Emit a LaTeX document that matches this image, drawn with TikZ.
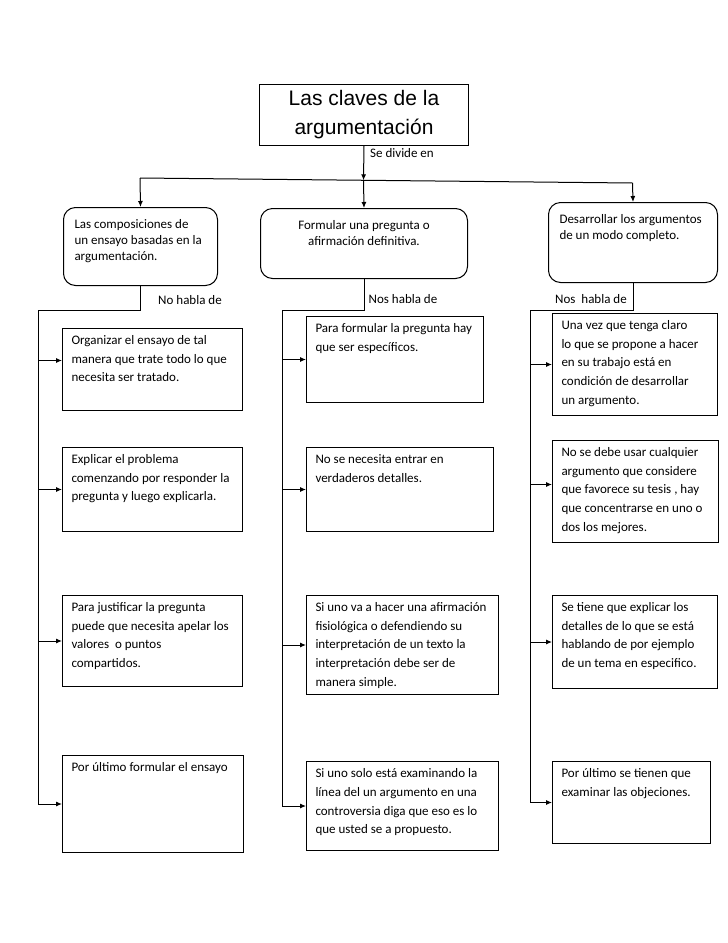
\documentclass[tikz,border=0pt]{standalone}
\usepackage{fontspec}
\setmainfont{Carlito}
\newfontfamily\titlefont{Liberation Sans}
\usetikzlibrary{arrows.meta}
\newcommand{\boxtxt}[3]{\parbox[c][#2][t]{#1}{\begin{tabular}[t]{@{}l@{}}#3\end{tabular}}}

\begin{document}
\begin{tikzpicture}[x=1pt,y=-1pt,
titlebox/.style ={rectangle, draw, line width=1pt, anchor=north west,
  minimum width=209pt, minimum height=61pt, inner sep=0pt,
  align=center, font=\titlefont\fontsize{21}{29}\selectfont
},
topic/.style ={rectangle, draw, line width=1pt, rounded corners=12pt,
  anchor=north west, inner xsep=11pt, inner ysep=10pt,
  font=\fontsize{13}{16}\selectfont
},
item/.style ={rectangle, draw, line width=1pt, anchor=north west,
  inner xsep=9pt, inner ysep=3pt, font=\fontsize{13}{18.7}\selectfont
},
conn/.style ={line width=1pt},
arr/.style ={line width=1pt, -{Latex[length=6pt,width=5pt]}},
lbl/.style ={font=\fontsize{13}{16}\selectfont, inner sep=0pt}]
\fill[white] (0,0) rectangle (728,943);

\node (title) at (259,84) [titlebox] {Las claves de la\\argumentación};

% first level
\node (a) at (63,207) [topic] {\boxtxt{132pt}{58pt}{Las composiciones de\\un ensayo basadas en la\\argumentación.}};
\node (b) at (260,208) [topic] {\parbox[c][50pt][t]{185pt}{\centering\begin{tabular}[t]{@{}c@{}}Formular una pregunta o\\afirmación definitiva.\end{tabular}}};
\node (c) at (548,202) [topic] {\boxtxt{147pt}{60pt}{Desarrollar los argumentos\\de un modo completo.}};

% left column
\node (l1) at (62,328) [item] {\boxtxt{162pt}{76pt}{Organizar el ensayo de tal\\manera que trate todo lo que\\necesita ser tratado.}};
\node (l2) at (62,447) [item] {\boxtxt{162pt}{78pt}{Explicar el problema\\comenzando por responder la\\pregunta y luego explicarla.}};
\node (l3) at (62,595) [item] {\boxtxt{162pt}{85pt}{Para justificar la pregunta\\puede que necesita apelar los\\valores~ o puntos\\compartidos.}};
\node (l4) at (62,755) [item] {\boxtxt{163pt}{91pt}{Por último formular el ensayo}};

% middle column
\node (m1) at (306,316) [item] {\boxtxt{159pt}{80pt}{Para formular la pregunta hay\\que ser específicos.}};
\node (m2) at (306,447) [item] {\boxtxt{169pt}{78pt}{No se necesita entrar en\\verdaderos detalles.}};
\node (m3) at (306,595) [item] {\boxtxt{174pt}{93pt}{Si uno va a hacer una afirmación\\fisiológica o defendiendo su\\interpretación de un texto la\\interpretación debe ser de\\manera simple.}};
\node (m4) at (306,761) [item] {\boxtxt{174pt}{83pt}{Si uno solo está examinando la\\línea del un argumento en una\\controversia diga que eso es lo\\que usted se a propuesto.}};

% right column
\node (r1) at (552,313) [item] {\boxtxt{147pt}{96pt}{Una vez que tenga claro\\lo que se propone a hacer\\en su trabajo está en\\condición de desarrollar\\un argumento.}};
\node (r2) at (552,440) [item] {\boxtxt{148pt}{96pt}{No se debe usar cualquier\\argumento que considere\\que favorece su tesis , hay\\que concentrarse en uno o\\dos los mejores.}};
\node (r3) at (552,595) [item] {\boxtxt{147pt}{87pt}{Se tiene que explicar los\\detalles de lo que se está\\hablando de por ejemplo\\de un tema en especifico.}};
\node (r4) at (552,761) [item] {\boxtxt{140pt}{76pt}{Por último se tienen que\\examinar las objeciones.}};

% labels
\node (sedivide) at (370,153) [lbl, anchor=west] {Se divide en};
\node (nohabla) at (190,300) [lbl] {No habla de};
\node (noshabla) at (403,299) [lbl] {Nos habla de};
\node (noshablar) at (591,299) [lbl] {Nos~ habla de};

% connectors
\coordinate (hl) at (140,178);
\coordinate (hr) at (632.5,183);
\coordinate (hm) at (363.5,180.3);
\draw[conn] (hl) -- (hr);
\draw[arr] (title.south) -- (hm);
\draw[arr] (hm) -- (b.north);
\draw[arr] (hl) -- (a.north);
\draw[arr] (hr) -- (c.north);

\coordinate (ka) at (38,310);
\coordinate (kb) at (282,310);
\coordinate (kc) at (530,310);
\draw[conn] (a.south) |- (ka) -- (ka |- l4.west);
\draw[conn] (b.south) |- (kb) -- (kb |- m4.west);
\draw[conn] (c.south) |- (kc) -- (kc |- r4.west);

\coordinate (l1in) at ([yshift=9pt]l1.west);
\coordinate (r2in) at ([yshift=7pt]r2.west);
\foreach \n in {l1in,l2.west,l3.west,l4.west}
  \draw[arr] (ka |- \n) -- (\n);
\foreach \n in {m1.west,m2.west,m3.west,m4.west}
  \draw[arr] (kb |- \n) -- (\n);
\foreach \n in {r1.west,r2in,r3.west,r4.west}
  \draw[arr] (kc |- \n) -- (\n);
\end{tikzpicture}
\end{document}
